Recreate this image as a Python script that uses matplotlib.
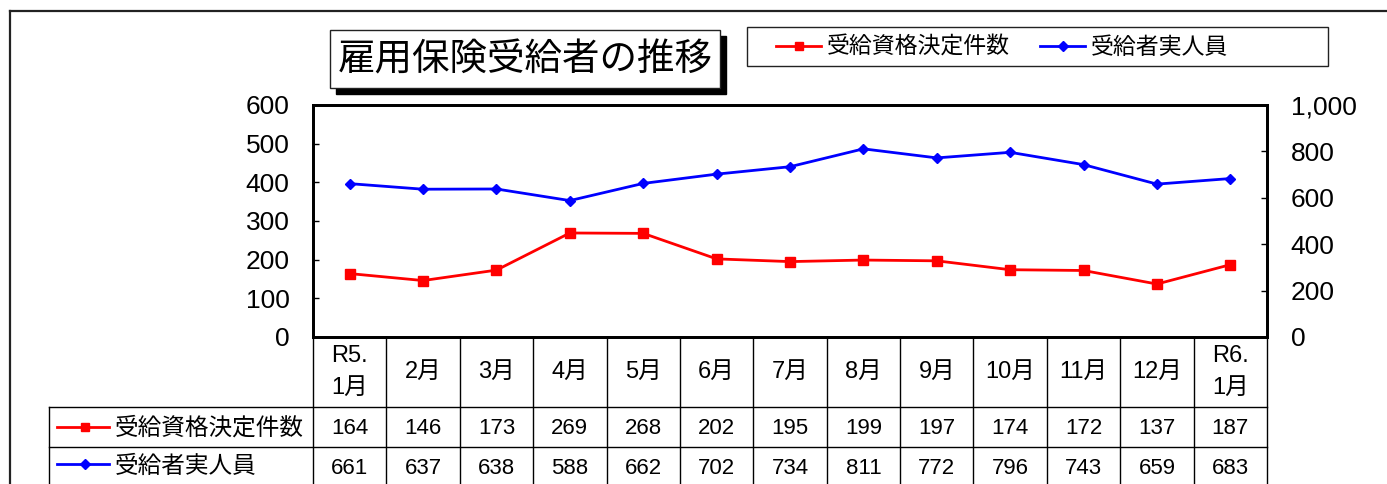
import matplotlib
matplotlib.use("Agg")
import matplotlib.pyplot as plt
from matplotlib.patches import Rectangle
from matplotlib.lines import Line2D
import matplotlib.transforms as mtransforms

plt.rcParams['font.family'] = ['Liberation Sans', 'Noto Sans CJK JP']

months = ["R5.\n1月", "2月", "3月", "4月", "5月", "6月", "7月",
          "8月", "9月", "10月", "11月", "12月", "R6.\n1月"]
kettei = [164, 146, 173, 269, 268, 202, 195, 199, 197, 174, 172, 137, 187]
jitsu = [661, 637, 638, 588, 662, 702, 734, 811, 772, 796, 743, 659, 683]
name_kettei = "受給資格決定件数"
name_jitsu = "受給者実人員"
title = "雇用保険受給者の推移"

W, H = 1387, 484
fig = plt.figure(figsize=(W / 100, H / 100), dpi=100)


def fx(px):
    return px / W


def fy(py):
    return 1 - py / H


# outer frame
fig.add_artist(Line2D([fx(10), fx(10)], [fy(11), fy(500)], color="#222222", lw=1.6))
fig.add_artist(Line2D([fx(10), fx(1400)], [fy(11), fy(11)], color="#222222", lw=1.6))

L, R, T, B = 313, 1267, 105, 337
ax = fig.add_axes([fx(L), fy(B), fx(R - L), (B - T) / H])
ax2 = ax.twinx()
x = list(range(len(months)))

ax.plot(x, kettei, color="#ff0000", lw=2, marker="s", ms=7, zorder=3)
ax2.plot(x, jitsu, color="#0000ff", lw=2, marker="D", ms=5.5, zorder=3)
ax.set_xlim(-0.5, len(months) - 0.5)
ax.set_ylim(0, 600)
ax2.set_ylim(0, 1000)
ax.set_yticks(range(0, 601, 100))
ax2.set_yticks(range(0, 1001, 200))
ax2.set_yticklabels([f"{v:,}" for v in range(0, 1001, 200)])
ax.set_xticks([])
for a in (ax, ax2):
    for s in a.spines.values():
        s.set_linewidth(2)
    a.tick_params(axis="y", direction="in", length=4, width=1, labelsize=19, pad=17)
ax.patch.set_alpha(0)

# title box with shadow
fig.add_artist(Rectangle((fx(336), fy(94)), fx(390), (94 - 36) / H,
                         facecolor="black", edgecolor="black"))
fig.add_artist(Rectangle((fx(330), fy(88)), fx(390), (88 - 30) / H,
                         facecolor="white", edgecolor="#222222", lw=1))
fig.text(fx(525), fy(60), title, ha="center", va="center", fontsize=27)

# legend box
fig.add_artist(Rectangle((fx(747), fy(66)), fx(581), (66 - 27) / H,
                         facecolor="white", edgecolor="#222222", lw=1))
fig.add_artist(Line2D([fx(776), fx(821)], [fy(46), fy(46)], color="#ff0000", lw=2))
fig.add_artist(Line2D([fx(798.5)], [fy(46)], color="#ff0000", marker="s", ms=6, lw=0))
fig.text(fx(827), fy(47), name_kettei, ha="left", va="center", fontsize=16.5)
fig.add_artist(Line2D([fx(1040), fx(1085)], [fy(46), fy(46)], color="#0000ff", lw=2))
fig.add_artist(Line2D([fx(1062.5)], [fy(46)], color="#0000ff", marker="D", ms=5, lw=0))
fig.text(fx(1091), fy(47), name_jitsu, ha="left", va="center", fontsize=16.5)

# data table below the axes, columns follow the x scale
bt = mtransforms.blended_transform_factory(ax.transData, fig.transFigure)
row_y = [337, 407, 447, 484]
n = len(months)
for i in range(n + 1):
    fig.add_artist(Line2D([i - 0.5, i - 0.5], [fy(row_y[0]), fy(500)],
                          transform=bt, color="black", lw=1))
for yy in row_y[1:3]:
    fig.add_artist(Line2D([fx(49), fx(R)], [fy(yy), fy(yy)], color="black", lw=1))
fig.add_artist(Line2D([fx(49), fx(49)], [fy(407), fy(500)], color="black", lw=1))

for i, m in enumerate(months):
    fig.text(i, fy(372), m, transform=bt, ha="center", va="center",
             fontsize=17, linespacing=1.6)
    fig.text(i, fy(428), str(kettei[i]), transform=bt, ha="center", va="center", fontsize=16)
    fig.text(i, fy(468), str(jitsu[i]), transform=bt, ha="center", va="center", fontsize=16)

fig.add_artist(Line2D([fx(57), fx(109)], [fy(427), fy(427)], color="#ff0000", lw=2))
fig.add_artist(Line2D([fx(85)], [fy(427)], color="#ff0000", marker="s", ms=6, lw=0))
fig.text(fx(115), fy(428), name_kettei, ha="left", va="center", fontsize=17)
fig.add_artist(Line2D([fx(57), fx(109)], [fy(464), fy(464)], color="#0000ff", lw=2))
fig.add_artist(Line2D([fx(85)], [fy(464)], color="#0000ff", marker="D", ms=5, lw=0))
fig.text(fx(115), fy(467), name_jitsu, ha="left", va="center", fontsize=17)

fig.savefig("out.png", dpi=100)
